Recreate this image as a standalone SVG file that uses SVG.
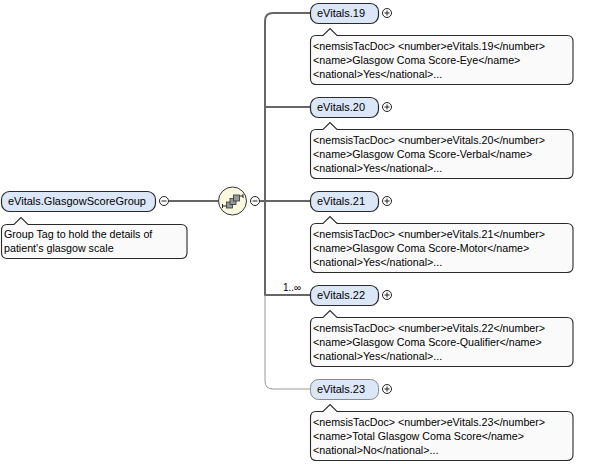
<svg xmlns="http://www.w3.org/2000/svg" width="596" height="464" viewBox="0 0 596 464">
<style>
.bg{fill:#ffffff}
.node{fill:#dbe6f7;stroke:#2a2a2a;stroke-width:1.2}
.node.opt{stroke:#8a8a8a;stroke-width:1}
.lbl{font-family:"Liberation Sans",Arial,sans-serif;font-size:11px;fill:#000}
.doc{fill:#fafafa;stroke:#2a2a2a;stroke-width:1.1}
.dt{font-family:"Liberation Sans",Arial,sans-serif;font-size:10.7px;fill:#000}
.btn{fill:#fff;stroke:#222;stroke-width:1}
.sign{stroke:#222;stroke-width:1;fill:none}
.wire{fill:none;stroke:#666666;stroke-width:2}
.wire.thin{stroke:#999999;stroke-width:1}
.card{font-family:"Liberation Sans",Arial,sans-serif;font-size:10px;fill:#000}
</style>
<rect class="bg" x="0" y="0" width="596" height="464"/>

<g id="connectors">
  <line class="wire" x1="169" y1="201" x2="218" y2="201"/>
  <line class="wire" x1="260" y1="201" x2="265" y2="201"/>
  <path class="wire" d="M265,295 L265,21 Q265,13 273,13 L310,13"/>
  <line class="wire" x1="265" y1="107" x2="310" y2="107"/>
  <line class="wire" x1="265" y1="201" x2="310" y2="201"/>
  <line class="wire" x1="264" y1="295" x2="310" y2="295"/>
  <path class="wire thin" d="M265,295 L265,381 Q265,389 273,389 L310,389"/>
  <text class="card" x="283" y="291">1..∞</text>
</g>

<g id="root">
  <rect class="node" x="1.5" y="191.5" width="154" height="20" rx="8"/>
  <text class="lbl" x="8" y="205">eVitals.GlasgowScoreGroup</text>
  <circle class="btn" cx="164" cy="201" r="4.5"/>
  <line class="sign" x1="161.5" y1="201" x2="166.5" y2="201"/>
  <path class="doc" d="M7,224.5 L14,224.5 L21,217.5 L28,224.5 L181,224.5 Q187,224.5 187,230.5 L187,252.5 Q187,258.5 181,258.5 L7,258.5 Q1.5,258.5 1.5,252.5 L1.5,230.5 Q1.5,224.5 7,224.5 Z"/>
  <text class="dt" x="4" y="238">Group Tag to hold the details of</text>
  <text class="dt" x="4" y="252">patient's glasgow scale</text>
</g>

<g id="sequence">
  <circle cx="232.5" cy="201" r="14" fill="#fbf8e0" stroke="#333" stroke-width="1"/>
  <path d="M223,206 H227 M238,196 H243 M222.5,204 V208 M243,194 V198" stroke="#222" stroke-width="1" fill="none"/>
  <rect x="226.5" y="202" width="6" height="6" fill="#999" stroke="#333" stroke-width="0.8"/>
  <rect x="230" y="198.5" width="6" height="6" fill="#999" stroke="#333" stroke-width="0.8"/>
  <rect x="233.5" y="195" width="6" height="6" fill="#999" stroke="#333" stroke-width="0.8"/>
  <circle class="btn" cx="255" cy="201" r="4.5"/>
  <line class="sign" x1="252.5" y1="201" x2="257.5" y2="201"/>
</g>

<g id="evitals19">
  <rect class="node" x="310.5" y="3.5" width="68" height="20" rx="8"/>
  <text class="lbl" x="317" y="17">eVitals.19</text>
  <circle class="btn" cx="387" cy="13" r="4.5"/>
  <path class="sign" d="M384.5,13 H389.5 M387,10.5 V15.5"/>
  <path class="doc" d="M316,35.5 L323,35.5 L330,28.5 L337,35.5 L567,35.5 Q573,35.5 573,41.5 L573,78.5 Q573,84.5 567,84.5 L316,84.5 Q310.5,84.5 310.5,78.5 L310.5,41.5 Q310.5,35.5 316,35.5 Z"/>
  <text class="dt" x="313" y="50">&lt;nemsisTacDoc&gt; &lt;number&gt;eVitals.19&lt;/number&gt;</text>
  <text class="dt" x="313" y="64">&lt;name&gt;Glasgow Coma Score-Eye&lt;/name&gt;</text>
  <text class="dt" x="313" y="78">&lt;national&gt;Yes&lt;/national&gt;...</text>
</g>

<g id="evitals20">
  <rect class="node" x="310.5" y="97.5" width="68" height="20" rx="8"/>
  <text class="lbl" x="317" y="111">eVitals.20</text>
  <circle class="btn" cx="387" cy="107" r="4.5"/>
  <path class="sign" d="M384.5,107 H389.5 M387,104.5 V109.5"/>
  <path class="doc" d="M316,129.5 L323,129.5 L330,122.5 L337,129.5 L567,129.5 Q573,129.5 573,135.5 L573,172.5 Q573,178.5 567,178.5 L316,178.5 Q310.5,178.5 310.5,172.5 L310.5,135.5 Q310.5,129.5 316,129.5 Z"/>
  <text class="dt" x="313" y="144">&lt;nemsisTacDoc&gt; &lt;number&gt;eVitals.20&lt;/number&gt;</text>
  <text class="dt" x="313" y="158">&lt;name&gt;Glasgow Coma Score-Verbal&lt;/name&gt;</text>
  <text class="dt" x="313" y="172">&lt;national&gt;Yes&lt;/national&gt;...</text>
</g>

<g id="evitals21">
  <rect class="node" x="310.5" y="191.5" width="68" height="20" rx="8"/>
  <text class="lbl" x="317" y="205">eVitals.21</text>
  <circle class="btn" cx="387" cy="201" r="4.5"/>
  <path class="sign" d="M384.5,201 H389.5 M387,198.5 V203.5"/>
  <path class="doc" d="M316,223.5 L323,223.5 L330,216.5 L337,223.5 L567,223.5 Q573,223.5 573,229.5 L573,266.5 Q573,272.5 567,272.5 L316,272.5 Q310.5,272.5 310.5,266.5 L310.5,229.5 Q310.5,223.5 316,223.5 Z"/>
  <text class="dt" x="313" y="238">&lt;nemsisTacDoc&gt; &lt;number&gt;eVitals.21&lt;/number&gt;</text>
  <text class="dt" x="313" y="252">&lt;name&gt;Glasgow Coma Score-Motor&lt;/name&gt;</text>
  <text class="dt" x="313" y="266">&lt;national&gt;Yes&lt;/national&gt;...</text>
</g>

<g id="evitals22">
  <rect class="node" x="310.5" y="285.5" width="68" height="20" rx="8"/>
  <text class="lbl" x="317" y="299">eVitals.22</text>
  <circle class="btn" cx="387" cy="295" r="4.5"/>
  <path class="sign" d="M384.5,295 H389.5 M387,292.5 V297.5"/>
  <path class="doc" d="M316,317.5 L323,317.5 L330,310.5 L337,317.5 L567,317.5 Q573,317.5 573,323.5 L573,360.5 Q573,366.5 567,366.5 L316,366.5 Q310.5,366.5 310.5,360.5 L310.5,323.5 Q310.5,317.5 316,317.5 Z"/>
  <text class="dt" x="313" y="332">&lt;nemsisTacDoc&gt; &lt;number&gt;eVitals.22&lt;/number&gt;</text>
  <text class="dt" x="313" y="346">&lt;name&gt;Glasgow Coma Score-Qualifier&lt;/name&gt;</text>
  <text class="dt" x="313" y="360">&lt;national&gt;Yes&lt;/national&gt;...</text>
</g>

<g id="evitals23">
  <rect class="node opt" x="310.5" y="379.5" width="68" height="20" rx="8"/>
  <text class="lbl" x="317" y="393">eVitals.23</text>
  <circle class="btn" cx="387" cy="389" r="4.5"/>
  <path class="sign" d="M384.5,389 H389.5 M387,386.5 V391.5"/>
  <path class="doc" d="M316,411.5 L323,411.5 L330,404.5 L337,411.5 L567,411.5 Q573,411.5 573,417.5 L573,454.5 Q573,460.5 567,460.5 L316,460.5 Q310.5,460.5 310.5,454.5 L310.5,417.5 Q310.5,411.5 316,411.5 Z"/>
  <text class="dt" x="313" y="426">&lt;nemsisTacDoc&gt; &lt;number&gt;eVitals.23&lt;/number&gt;</text>
  <text class="dt" x="313" y="440">&lt;name&gt;Total Glasgow Coma Score&lt;/name&gt;</text>
  <text class="dt" x="313" y="454">&lt;national&gt;No&lt;/national&gt;...</text>
</g>
</svg>
